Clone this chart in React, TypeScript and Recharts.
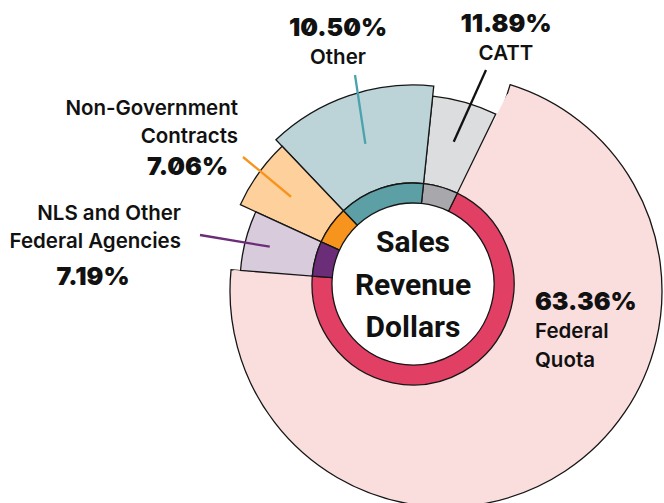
import React from 'react';
import { PieChart, Pie, Cell } from 'recharts';

// ---- data ----
const categories = ['Federal Quota', 'CATT', 'Other', 'Non-Government Contracts', 'NLS and Other Federal Agencies'];
// share of sales revenue dollars (drives the angles)
const revenueShare = [69.0, 5.55, 13.75, 6.05, 5.6];
// printed percentages
const percentShares = [63.36, 11.89, 10.5, 7.06, 7.19];
const labelLines = [['Federal', 'Quota'], ['CATT'], ['Other'], ['Non-Government', 'Contracts'], ['NLS and Other', 'Federal Agencies']];
const centerTitle = ['Sales', 'Revenue', 'Dollars'];

// ---- layout / style ----
const W = 664, H = 503;
const CX = 413, CY = 284;
const RING_IN = 81, RING_OUT = 101;
const OUTER_R = [180, 189, 199, 190, 173];
const FED_ARC = { cx: 446, cy: 291, r: 216 };
const START = 175.5;

const lightFill = ['#fadedd', '#dcdddf', '#bcd3d8', '#fdd09c', '#d8cbdc'];
const darkFill = ['#e23f64', '#a8a8ac', '#5c9fa5', '#f7941e', '#6b2d78'];
const leaderColor = ['none', '#111111', '#4aa3ad', '#f7941d', '#6b2d78'];
const STROKE = '#161616';

const data = categories.map((name, i) => ({ name, value: revenueShare[i], pct: percentShares[i] }));
const total = revenueShare.reduce((a, b) => a + b, 0);
const fedStart = START;
const fedEnd = START + (360 * revenueShare[0]) / total;

const midAngles: number[] = [];
{
  let acc = START;
  revenueShare.forEach((v) => {
    const span = (360 * v) / total;
    midAngles.push(acc + span / 2);
    acc += span;
  });
}

function arcAngleAt(theta: number) {
  const rad = (theta * Math.PI) / 180;
  const ux = Math.cos(rad), uy = -Math.sin(rad);
  const ox = CX - FED_ARC.cx, oy = CY - FED_ARC.cy;
  const b = ux * ox + uy * oy;
  const c = ox * ox + oy * oy - FED_ARC.r * FED_ARC.r;
  const d = -b + Math.sqrt(b * b - c);
  const qx = CX + d * ux, qy = CY + d * uy;
  return (Math.atan2(-(qy - FED_ARC.cy), qx - FED_ARC.cx) * 180) / Math.PI;
}
const bStart = arcAngleAt(fedStart);
let bEnd = arcAngleAt(fedEnd);
while (bEnd <= bStart) bEnd += 360;

const labelLayout: any[] = [
  { pctX: 535, pctY: 310, pctAnchor: 'start', textX: 535, textY: [338, 367], anchor: 'start', line: null },
  { pctX: 506, pctY: 32, pctAnchor: 'middle', textX: 506, textY: [60], anchor: 'middle', line: [486, 70], lr: 148 },
  { pctX: 338, pctY: 36, pctAnchor: 'middle', textX: 338, textY: [64], anchor: 'middle', line: [355, 75], lr: 148 },
  { pctX: 228, pctY: 175, pctAnchor: 'end', textX: 238, textY: [115, 143], anchor: 'end', line: [243, 157], lr: 150 },
  { pctX: 93, pctY: 285, pctAnchor: 'middle', textX: 181, textY: [220, 248], anchor: 'end', line: [200, 235], lr: 148 },
];

const pctStyle: React.CSSProperties = {
  fontFamily: 'Inter, "Noto Sans", sans-serif',
  fontWeight: 900,
  fontSize: 25,
  fontVariantNumeric: 'slashed-zero',
  fontFeatureSettings: '"zero" 1',
};
const nameStyle: React.CSSProperties = {
  fontFamily: 'Inter, "Noto Sans", sans-serif',
  fontWeight: 600,
  fontSize: 20.5,
};
const centerStyle: React.CSSProperties = {
  fontFamily: 'Roboto, "Noto Sans", sans-serif',
  fontWeight: 700,
  fontSize: 30,
};

const renderLabel = (props: any) => {
  const index = props.index;
  const L = labelLayout[index];
  const d = data[index];
  const mid = midAngles[index];
  const rad = (mid * Math.PI) / 180;
  let line = null;
  if (L.line) {
    const x1 = CX + L.lr * Math.cos(rad);
    const y1 = CY - L.lr * Math.sin(rad);
    line = <line x1={x1} y1={y1} x2={L.line[0]} y2={L.line[1]} stroke={leaderColor[index]} strokeWidth={2.3} />;
  }
  return (
    <g key={`lbl-${index}`}>
      {line}
      <text x={L.pctX} y={L.pctY} textAnchor={L.pctAnchor} fill="#111" style={pctStyle}>
        {d.pct.toFixed(2)}%
      </text>
      {labelLines[index].map((t, j) => (
        <text key={j} x={L.textX} y={L.textY[j]} textAnchor={L.anchor} fill="#111" style={nameStyle}>
          {t}
        </text>
      ))}
    </g>
  );
};

const centerBaselines = [252, 295, 337];
const renderCenter = () => (
  <g key="center">
    {centerTitle.map((t, j) => (
      <text key={j} x={CX} y={centerBaselines[j]} textAnchor="middle" fill="#111" style={centerStyle}>
        {t}
      </text>
    ))}
  </g>
);

export default function App() {
  return (
    <div style={{ position: 'absolute', left: 0, top: 0, width: W, height: H, background: '#fff' }}>
      <PieChart width={W} height={H} margin={{ top: 0, right: 0, bottom: 0, left: 0 }}>
        {/* Federal quota outer arc (offset arc) */}
        <Pie
          data={[data[0]]}
          dataKey="value"
          cx={FED_ARC.cx}
          cy={FED_ARC.cy}
          innerRadius={0}
          outerRadius={FED_ARC.r}
          startAngle={bStart}
          endAngle={bEnd}
          isAnimationActive={false}
          stroke={STROKE}
          strokeWidth={1.3}
        >
          <Cell fill={lightFill[0]} stroke={STROKE} strokeWidth={1.3} />
        </Pie>
        {/* Federal quota radial body */}
        <Pie
          data={data}
          dataKey="value"
          cx={CX}
          cy={CY}
          innerRadius={0}
          outerRadius={OUTER_R[0]}
          startAngle={START}
          endAngle={START + 360}
          isAnimationActive={false}
        >
          {data.map((_, i) => (
            <Cell key={i} fill={i === 0 ? lightFill[0] : 'none'} stroke="none" />
          ))}
        </Pie>
        <Pie
          data={[data[0]]}
          dataKey="value"
          cx={CX}
          cy={CY}
          innerRadius={0}
          outerRadius={212}
          startAngle={fedEnd - 14}
          endAngle={fedEnd - 0.4}
          isAnimationActive={false}
        >
          <Cell fill={lightFill[0]} stroke="none" />
        </Pie>
        {/* Other outer slices */}
        {[1, 2, 3, 4].map((k) => (
          <Pie
            key={`outer-${k}`}
            data={data}
            dataKey="value"
            cx={CX}
            cy={CY}
            innerRadius={RING_OUT}
            outerRadius={OUTER_R[k]}
            startAngle={START}
            endAngle={START + 360}
            isAnimationActive={false}
          >
            {data.map((_, i) => (
              <Cell
                key={i}
                fill={i === k ? lightFill[k] : 'none'}
                stroke={i === k ? STROKE : 'none'}
                strokeWidth={1.3}
              />
            ))}
          </Pie>
        ))}
        {/* white center */}
        <Pie
          data={[{ name: 'Sales Revenue Dollars', value: 1 }]}
          dataKey="value"
          cx={CX}
          cy={CY}
          innerRadius={0}
          outerRadius={RING_IN}
          startAngle={0}
          endAngle={360}
          isAnimationActive={false}
          label={renderCenter}
          labelLine={false}
        >
          <Cell fill="#ffffff" stroke="none" />
        </Pie>
        {/* inner ring */}
        <Pie
          data={data}
          dataKey="value"
          cx={CX}
          cy={CY}
          innerRadius={RING_IN}
          outerRadius={RING_OUT}
          startAngle={START}
          endAngle={START + 360}
          isAnimationActive={false}
          label={renderLabel}
          labelLine={false}
        >
          {data.map((_, i) => (
            <Cell key={i} fill={darkFill[i]} stroke={STROKE} strokeWidth={1.3} />
          ))}
        </Pie>
      </PieChart>
    </div>
  );
}
